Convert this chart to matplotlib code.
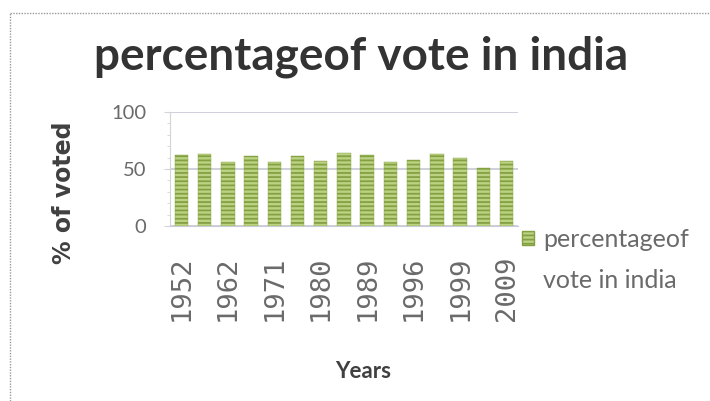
import matplotlib
matplotlib.use("Agg")
import matplotlib.pyplot as plt
from matplotlib.lines import Line2D
from matplotlib.patches import Patch

years = ["1952", "1957", "1962", "1967", "1971", "1977", "1980", "1984",
         "1989", "1991", "1996", "1998", "1999", "2004", "2009"]
turnout = [62, 63, 56, 61, 56, 61, 57, 64, 62, 56, 58, 63, 60, 51, 57]
series_name = ["percentageof", "vote in india"]
title = "percentageof vote in india"

SANS = ["Lato", "DejaVu Sans"]
MONO = ["DejaVu Sans Mono"]

plt.rcParams['hatch.linewidth'] = 1.3
fig = plt.figure(figsize=(7.1, 4.01), dpi=100)
ax = fig.add_axes([0.239, 0.436, 0.491, 0.285])

x = list(range(len(years)))
ax.bar(x, turnout, width=0.58, color="#bcd283", edgecolor="#84a142",
       hatch="----", linewidth=0.3, zorder=3)

ax.set_xlim(-0.5, len(years) - 0.5)
ax.set_ylim(0, 100)
ax.set_yticks([0, 50, 100])
ax.set_yticks(range(0, 101, 10), minor=True)
ax.grid(axis="y", which="major", color="#cfd0dc", linewidth=1.4, zorder=0)
for s in ["top", "right"]:
    ax.spines[s].set_visible(False)
ax.spines["left"].set_color("#d4d4d4")
ax.spines["bottom"].set_color("#c8cad8")
ax.tick_params(axis="y", which="major", length=4, color="#d4d4d4", pad=13)
ax.tick_params(axis="y", which="minor", length=2, color="#d4d4d4")
for lab in ax.get_yticklabels():
    lab.set_fontfamily(SANS)
    lab.set_fontsize(14.5)
    lab.set_color("#6a6a6a")
ax.set_xticks(x[::2])
ax.set_xticklabels(years[::2], rotation=90, fontsize=19.5, color="#6a6a6a",
                   family=MONO)
ax.tick_params(axis="x", length=0, pad=21)

ax.set_xlabel("Years", fontsize=16, fontweight="bold", color="#404040",
              family=SANS)
ax.xaxis.set_label_coords(0.555, -1.18)
ax.set_ylabel("% of voted", fontsize=17, fontweight="bold", color="#404040",
              family=["DejaVu Sans"])
ax.yaxis.set_label_coords(-0.27, 0.29)

fig.text(0.508, 0.858, title, ha="center", va="center", fontsize=33,
         fontweight="bold", color="#333333", family=SANS)

handle = Patch(facecolor="#bcd283", edgecolor="#84a142", hatch="----")
leg = fig.legend([handle], [series_name[0]], loc="upper left",
                 bbox_to_anchor=(0.735, 0.432), frameon=False,
                 prop={"family": SANS, "size": 18},
                 handlelength=0.5, handleheight=0.5, handletextpad=0.35,
                 labelcolor="#6a6a6a", borderpad=0, borderaxespad=0)

fig.canvas.draw()
tb = leg.get_texts()[0].get_window_extent(fig.canvas.get_renderer())
x0 = tb.x0 / fig.bbox.width
fig.text(x0, 1 - 288 / 401, series_name[1], ha="left", va="baseline",
         fontsize=18, family=SANS, color="#6a6a6a")

# partial frame border of the original screenshot
fig.add_artist(Line2D([10 / 710, 1], [1 - 13 / 401, 1 - 13 / 401],
                      transform=fig.transFigure, color="#9a9a9a",
                      linewidth=1, linestyle=(0, (1, 1))))
fig.add_artist(Line2D([10 / 710, 10 / 710], [0, 1 - 13 / 401],
                      transform=fig.transFigure, color="#9a9a9a",
                      linewidth=1, linestyle=(0, (1, 1))))

fig.savefig("out.png", dpi=100)
